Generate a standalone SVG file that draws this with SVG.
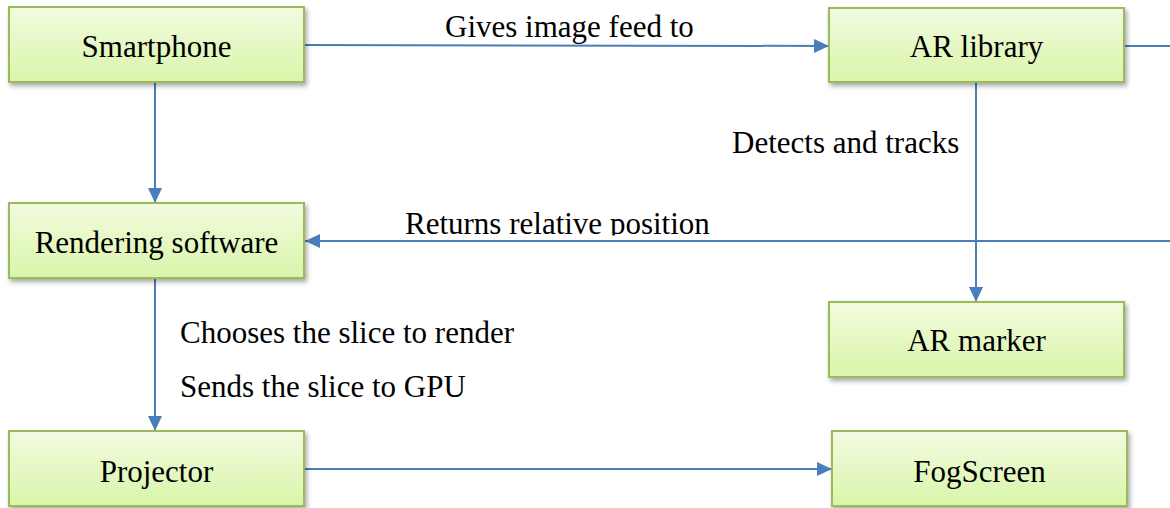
<svg xmlns="http://www.w3.org/2000/svg" width="1170" height="508" viewBox="0 0 1170 508">
  <style>
    .box { fill: url(#boxFill); stroke: #9bbb59; stroke-width: 2; filter: url(#shadow); }
    .caption { font-family: 'Liberation Serif', 'DejaVu Serif', serif; font-size: 31px; fill: #000000; }
    .mid { text-anchor: middle; }
    .wire { fill: none; stroke: #4a7ebb; stroke-width: 2; }
    .arrow { marker-end: url(#head); }
  </style>
  <defs>
    <linearGradient id="boxFill" x1="0" y1="0" x2="0" y2="1">
      <stop offset="0" stop-color="#f2fbe0"/>
      <stop offset="1" stop-color="#d9f5a9"/>
    </linearGradient>
    <filter id="shadow" x="-10%" y="-20%" width="125%" height="150%">
      <feGaussianBlur in="SourceAlpha" stdDeviation="2.5"/>
      <feOffset dx="2" dy="3" result="blur"/>
      <feComponentTransfer><feFuncA type="linear" slope="0.35"/></feComponentTransfer>
      <feMerge><feMergeNode/><feMergeNode in="SourceGraphic"/></feMerge>
    </filter>
    <marker id="head" viewBox="0 0 10 10" refX="10" refY="5" markerWidth="15" markerHeight="14" markerUnits="userSpaceOnUse" orient="auto" preserveAspectRatio="none">
      <path d="M0,0 L10,5 L0,10 z" fill="#4a7ebb"/>
    </marker>
    <!-- the return label sits partly under the page edge of its text frame -->
    <clipPath id="cutReturn">
      <rect x="380" y="190" width="400" height="45.5"/>
    </clipPath>
  </defs>

  <rect width="1170" height="508" fill="#ffffff"/>

  <!-- connectors -->
  <g id="connectors">
    <path class="wire arrow" d="M304,45 L829,46"/>
    <path class="wire arrow" d="M155,82 L155,203"/>
    <path class="wire arrow" d="M976,82 L976,302"/>
    <path class="wire" d="M1124,46 L1170,46"/>
    <path class="wire arrow" d="M1170,241 L305,241"/>
    <path class="wire arrow" d="M155,278 L155,431"/>
    <path class="wire arrow" d="M304,469 L832,469"/>
    <text class="caption" x="445" y="37">Gives image feed to</text>
    <text class="caption" x="732" y="153">Detects and tracks</text>
    <text class="caption" x="405" y="234" clip-path="url(#cutReturn)">Returns relative position</text>
    <text class="caption" x="180" y="343">Chooses the slice to render</text>
    <text class="caption" x="180" y="397">Sends the slice to GPU</text>
  </g>

  <g id="smartphone">
    <rect class="box" x="9" y="7" width="295" height="75"/>
    <text class="caption mid" x="156.5" y="57">Smartphone</text>
  </g>
  <g id="ar-library">
    <rect class="box" x="829" y="8" width="295" height="74"/>
    <text class="caption mid" x="976.5" y="57">AR library</text>
  </g>
  <g id="rendering-software">
    <rect class="box" x="9" y="203" width="295" height="75"/>
    <text class="caption mid" x="156.5" y="253">Rendering software</text>
  </g>
  <g id="ar-marker">
    <rect class="box" x="829" y="302" width="295" height="75"/>
    <text class="caption mid" x="976.5" y="351">AR marker</text>
  </g>
  <g id="projector">
    <rect class="box" x="9" y="431" width="295" height="75"/>
    <text class="caption mid" x="156.5" y="482">Projector</text>
  </g>
  <g id="fogscreen">
    <rect class="box" x="832" y="431" width="295" height="75"/>
    <text class="caption mid" x="979.5" y="482">FogScreen</text>
  </g>
</svg>
